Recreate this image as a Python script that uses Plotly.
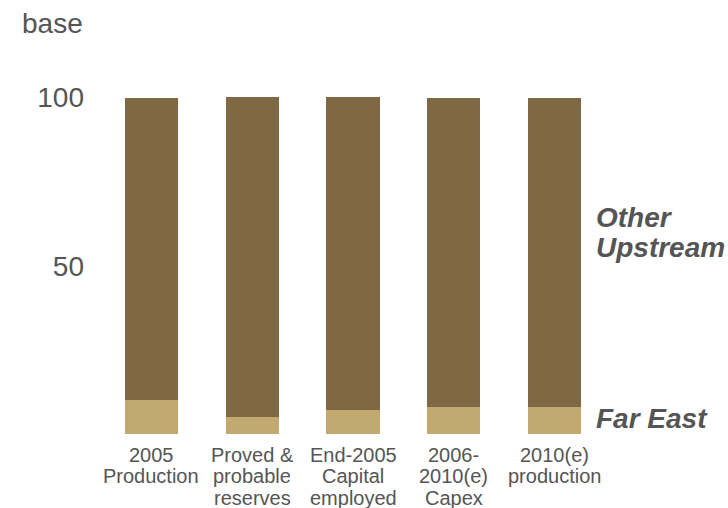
import plotly.graph_objects as go

categories = ["2005<br>Production", "Proved &<br>probable<br>reserves",
              "End-2005<br>Capital<br>employed", "2006-<br>2010(e)<br>Capex",
              "2010(e)<br>production"]
far_east = [10, 5, 7, 8, 8]
other_upstream = [90, 95.3, 93.3, 92, 92]
y_ticks = [50, 100]
series_names = ["Far East", "Other Upstream"]

DARK = "#7F6945"
LIGHT = "#C2A96F"
TEXT = "#555555"
FONT = "Liberation Sans, Arial, sans-serif"

x_idx = list(range(len(categories)))

fig = go.Figure()
fig.add_trace(go.Bar(x=x_idx, y=far_east, name=series_names[0],
                     marker=dict(color=LIGHT, line=dict(width=0))))
fig.add_trace(go.Bar(x=x_idx, y=other_upstream, name=series_names[1],
                     marker=dict(color=DARK, line=dict(width=0))))

annotations = []
# category labels, one annotation per line
for i, lab in enumerate(categories):
    for j, line in enumerate(lab.split("<br>")):
        annotations.append(dict(
            x=i, xref="x", y=0, yref="paper", text=line, showarrow=False,
            xanchor="center", yanchor="middle", yshift=-(20.5 + 21.5 * j),
            font=dict(family=FONT, size=20, color=TEXT)))

# axis title
annotations.append(dict(x=-0.161, xref="paper", y=1.109, yref="paper", text="base",
                        showarrow=False, xanchor="left", yanchor="middle",
                        font=dict(family=FONT, size=28, color=TEXT)))

# series labels
label_font = dict(family=FONT, size=28, color=TEXT)
for txt, yv in [("<b><i>Other</i></b>", 64.3), ("<b><i>Upstream</i></b>", 55.4),
                ("<b><i>Far East</i></b>", 4.6)]:
    annotations.append(dict(x=4.39, xref="x", y=yv, yref="y", text=txt,
                            showarrow=False, xanchor="left", yanchor="middle",
                            font=label_font))

fig.update_layout(
    barmode="stack",
    bargap=0.474,
    showlegend=False,
    width=728, height=508,
    margin=dict(l=101, r=123, t=64, b=73.5, pad=0),
    paper_bgcolor="white", plot_bgcolor="white",
    font=dict(family=FONT, color=TEXT),
    xaxis=dict(range=[-0.5, 4.5], showticklabels=False, showgrid=False,
               zeroline=False, showline=False, ticks=""),
    yaxis=dict(range=[0, 110], tickvals=y_ticks, showgrid=False,
               zeroline=False, showline=False, ticks="",
               tickfont=dict(family=FONT, size=28, color=TEXT),
               ticklabelstandoff=16),
    annotations=annotations,
)

fig.write_html("out.html")
